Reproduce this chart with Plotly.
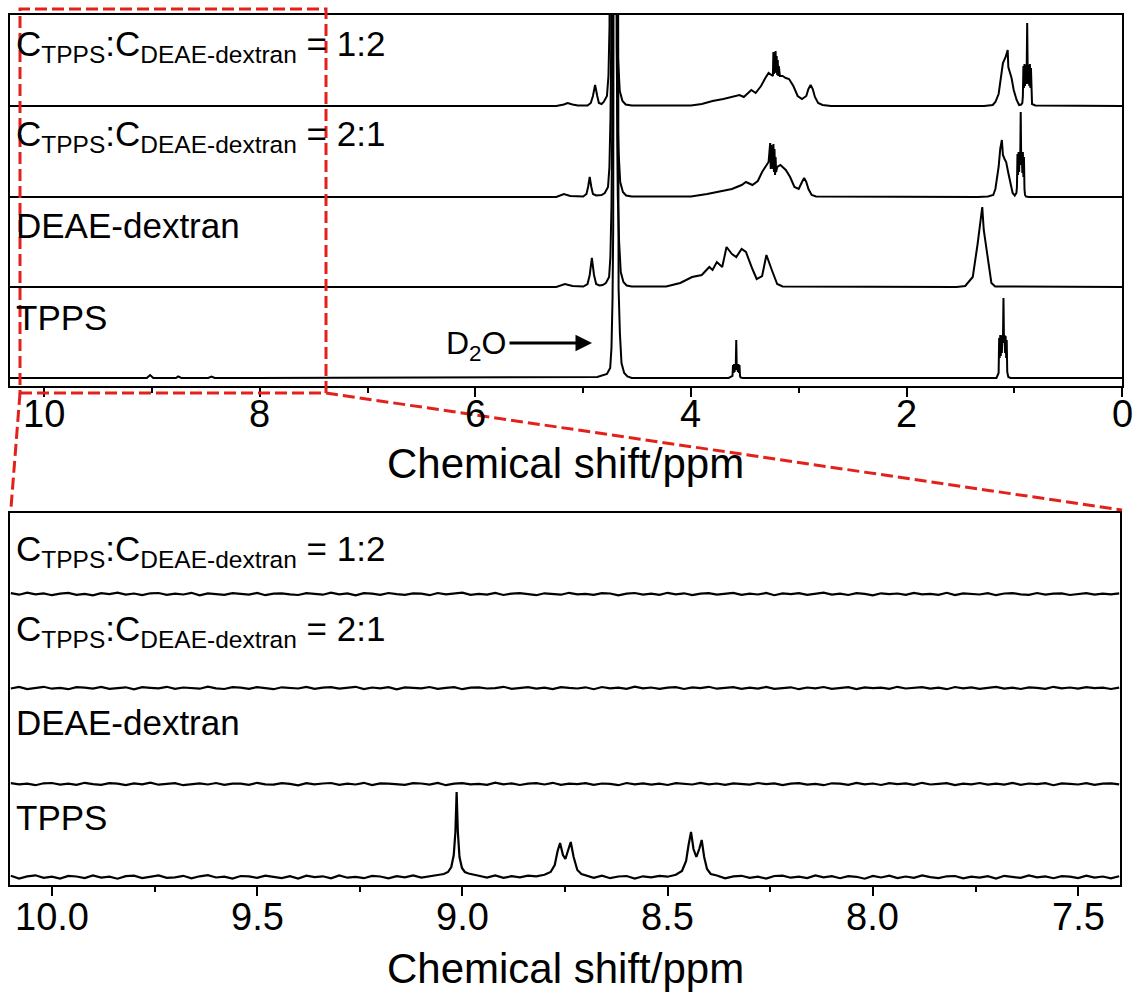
import plotly.graph_objects as go

W, H = 1135, 992
FONT = "Liberation Sans, Arial, sans-serif"

# ---------------- top panel (full spectra), intensities in a.u. ----------------
D2O_INT = [4, 10, 30, 80, 150, 2000, 150, 90, 45, 15, 5, 1.5]
D2O_12_PPM = [4.81, 4.78, 4.766, 4.756, 4.75, 4.722, 4.694, 4.688, 4.676, 4.661, 4.636, 4.606]
D2O_21_PPM = [4.80, 4.77, 4.757, 4.747, 4.741, 4.717, 4.69, 4.684, 4.672, 4.657, 4.632, 4.602]
D2O_DE_PPM = [4.79, 4.76, 4.748, 4.738, 4.732, 4.71, 4.685, 4.679, 4.667, 4.652, 4.627, 4.597]
D2O_TP_PPM = [4.78, 4.75, 4.738, 4.728, 4.722, 4.70, 4.678, 4.672, 4.66, 4.645, 4.62, 4.59]

# C_TPPS:C_DEAE = 1:2
T12_PPM = ([10.32, 5.25, 5.18, 5.145, 5.10, 5.05, 4.96, 4.93, 4.91, 4.89, 4.87, 4.855, 4.83]
           + D2O_12_PPM
           + [4.55, 4.00, 3.90, 3.80, 3.70, 3.62, 3.55, 3.51, 3.47, 3.44, 3.40, 3.35, 3.31, 3.28]
           + [3.24, 3.235, 3.23, 3.225, 3.22, 3.215, 3.21, 3.205, 3.20, 3.195, 3.19, 3.185, 3.175]
           + [3.15, 3.12, 3.09, 3.05, 3.01, 2.97, 2.93, 2.91, 2.89, 2.87, 2.85, 2.82, 2.78, 2.70]
           + [1.28, 1.20, 1.175, 1.145, 1.132, 1.105, 1.08, 1.061, 1.055, 1.04, 1.025, 1.005, 0.978, 0.955, 0.935]
           + [0.925, 0.92, 0.915, 0.91, 0.905, 0.90, 0.895, 0.89, 0.885, 0.88, 0.875, 0.87, 0.865, 0.86, 0.855,
              0.85, 0.845, 0.84, 0.835, 0.805, 0.0])
T12_INT = ([0, 0, 1.5, 3, 1.5, 0.5, 0.5, 3, 10, 21, 10, 3, 2]
           + D2O_INT
           + [0.5, 0.5, 2, 5, 7, 9, 11, 9, 13, 16, 13, 20, 28, 33]
           + [30, 54, 32, 52, 34, 55, 33, 50, 31, 46, 30, 40, 30]
           + [30, 28, 27, 20, 10, 7, 10, 17, 21, 17, 9, 3, 1, 0]
           + [0, 1, 4, 12, 23, 43, 49, 56, 39, 33, 28, 16, 6, 1, 1.5]
           + [3, 10, 40, 18, 42, 20, 41, 22, 30, 83, 30, 22, 41, 20, 42,
              18, 38, 8, 2, 0.5, 0])

# C_TPPS:C_DEAE = 2:1
T21_PPM = ([10.32, 5.25, 5.18, 5.12, 5.00, 4.97, 4.955, 4.94, 4.925, 4.91, 4.88, 4.83]
           + D2O_21_PPM
           + [4.55, 4.00, 3.85, 3.75, 3.62, 3.53, 3.49, 3.43, 3.38, 3.34, 3.31, 3.28]
           + [3.265, 3.26, 3.255, 3.25, 3.245, 3.24, 3.235, 3.23, 3.225, 3.22, 3.215, 3.21, 3.20]
           + [3.17, 3.12, 3.08, 3.04, 3.00, 2.97, 2.95, 2.93, 2.91, 2.88, 2.84]
           + [1.335, 1.245, 1.195, 1.175, 1.145, 1.13, 1.115, 1.105, 1.09, 1.075, 1.055, 1.04, 1.015, 0.995, 0.98]
           + [0.975, 0.97, 0.965, 0.96, 0.955, 0.95, 0.945, 0.94, 0.935, 0.93, 0.925, 0.92, 0.915, 0.91, 0.905,
              0.90, 0.89, 0.865, 0.0])
T21_INT = ([0, 0, 3, 1, 0.5, 3, 10, 20, 10, 3, 1.5, 2]
           + D2O_INT
           + [0.5, 0.5, 3, 5, 8, 12, 15, 12, 16, 25, 30, 35]
           + [54, 28, 52, 30, 50, 28, 53, 25, 48, 22, 40, 25, 30]
           + [32, 27, 20, 10, 8, 15, 19, 15, 8, 2, 0.5]
           + [0, 0.5, 2, 8, 30, 48, 57, 42, 38, 35, 24, 15, 4, 1.5, 4]
           + [10, 43, 22, 45, 25, 44, 32, 85, 32, 44, 24, 45, 20, 40, 8,
              2, 0.5, 0, 0])

# DEAE-dextran
TDE_PPM = ([10.32, 5.25, 5.17, 5.10, 5.00, 4.96, 4.94, 4.92, 4.90, 4.88, 4.85, 4.82]
           + D2O_DE_PPM
           + [4.55, 4.23, 4.10, 3.99, 3.90, 3.83, 3.80, 3.76, 3.71, 3.67, 3.62, 3.58, 3.53, 3.49, 3.43,
              3.39, 3.34, 3.30, 3.25, 3.20, 3.15]
           + [1.535, 1.455, 1.385, 1.34, 1.315, 1.297, 1.283, 1.257, 1.232, 1.212, 1.177, 0.0])
TDE_INT = ([0, 0, 3, 1, 0.5, 3, 12, 29, 12, 3, 1.5, 2]
           + D2O_INT
           + [0.5, 0.5, 4, 10, 12, 20, 17, 25, 20, 40, 33, 30, 38, 35, 18,
              8, 11, 32, 17, 3, 0.5]
           + [0, 1, 10, 43, 63, 80, 57, 37, 21, 4, 0.5, 0])

# TPPS
TTP_PPM = ([10.32, 9.05, 9.02, 8.99, 8.78, 8.76, 8.73, 8.48, 8.45, 8.42, 4.87]
           + D2O_TP_PPM
           + [4.55, 3.65, 3.615, 3.61, 3.605, 3.60, 3.595, 3.59, 3.585, 3.58, 3.575, 3.57, 3.565, 3.56,
              3.555, 3.55, 3.545, 3.54, 3.52, 3.49]
           + [1.165, 1.145, 1.14, 1.135, 1.13, 1.125, 1.12, 1.115, 1.11, 1.105, 1.10, 1.095, 1.09, 1.085,
              1.08, 1.075, 1.07, 1.065, 1.055, 1.035, 0.0])
TTP_INT = ([0, 0, 3, 0, 0, 1.5, 0, 0, 1.5, 0, 1]
           + D2O_INT
           + [0, 0, 2, 13, 5, 14, 6, 14, 8, 38, 8, 14, 6, 14,
              5, 13, 2, 0.5, 0, 0]
           + [0, 5, 40, 20, 43, 22, 42, 25, 43, 35, 80, 35, 43, 25,
              42, 20, 38, 6, 1, 0, 0])

# ---------------- bottom panel (10.1 - 7.4 ppm expansion) ----------------
Z_PPM = [10.10, 10.08, 10.06, 10.04, 10.02, 10.00, 9.98, 9.96, 9.94, 9.92,
         9.90, 9.88, 9.86, 9.84, 9.82, 9.80, 9.78, 9.76, 9.74, 9.72,
         9.70, 9.68, 9.66, 9.64, 9.62, 9.60, 9.58, 9.56, 9.54, 9.52,
         9.50, 9.48, 9.46, 9.44, 9.42, 9.40, 9.38, 9.36, 9.34, 9.32,
         9.30, 9.28, 9.26, 9.24, 9.22, 9.20, 9.18, 9.16, 9.14, 9.12,
         9.10, 9.08, 9.06, 9.04, 9.02, 9.00, 8.98, 8.96, 8.94, 8.92,
         8.90, 8.88, 8.86, 8.84, 8.82, 8.80, 8.78, 8.76, 8.74, 8.72,
         8.70, 8.68, 8.66, 8.64, 8.62, 8.60, 8.58, 8.56, 8.54, 8.52,
         8.50, 8.48, 8.46, 8.44, 8.42, 8.40, 8.38, 8.36, 8.34, 8.32,
         8.30, 8.28, 8.26, 8.24, 8.22, 8.20, 8.18, 8.16, 8.14, 8.12,
         8.10, 8.08, 8.06, 8.04, 8.02, 8.00, 7.98, 7.96, 7.94, 7.92,
         7.90, 7.88, 7.86, 7.84, 7.82, 7.80, 7.78, 7.76, 7.74, 7.72,
         7.70, 7.68, 7.66, 7.64, 7.62, 7.60, 7.58, 7.56, 7.54, 7.52,
         7.50, 7.48, 7.46, 7.44, 7.42, 7.40]
Z12_INT = [0.9, -0.7, 1.3, -0.4, 0.6, -1.2, 0.3, 1.1, -0.9, 0.2,
           -1.3, 0.8, -0.2, 1.4, -0.6, 0.5, -1.1, 0.7, 1.0, -0.8,
           0.3, -0.5, 1.2, -1.4, 0.6, 0.0, -0.9, 0.8, 0.4, -0.6,
           1.1, -1.2, 0.3, 0.7, -0.4, -1.0, 0.9, 0.1, -0.7, 1.3,
           -0.3, 0.6, -1.3, 0.8, 0.4, -0.8, 1.0, -0.2, -0.9, 0.7,
           0.3, -1.2, 1.0, -0.4, 0.5, 1.3, -0.8, 0.2, -0.6, 1.1,
           -1.0, 0.4, 0.8, -0.3, -1.2, 0.7, 0.2, -0.7, 1.2, -0.4,
           0.1, -0.9, 0.8, 0.5, -1.3, 0.4, 1.0, -0.6, 0.3, -0.8,
           1.2, -0.3, 0.7, -1.1, 0.4, 0.8, -0.7, 0.1, 1.1, -0.9,
           0.3, -0.5, 1.0, -1.2, 0.6, -0.1, 0.9, -0.8, 0.2, 1.3,
           -0.6, 0.4, -1.0, 0.8, 0.1, -1.3, 0.7, -0.2, 0.5, -0.9,
           1.1, -0.4, 0.2, -0.8, 1.2, -1.1, 0.6, 0.3, -0.5, 0.9,
           -1.2, 0.5, 0.8, -0.3, -0.9, 1.0, -0.6, 0.4, 0.7, -1.0,
           0.2, 0.9, -0.7, 0.4, -0.3, 0.6]
Z21_INT = [-0.5, 1.0, -1.1, 0.3, 1.2, -0.7, 0.1, -1.2, 0.8, 0.4,
           -0.6, 1.1, -0.8, -0.1, 0.7, -1.3, 0.9, 0.2, -0.4, 1.2,
           -0.9, 0.5, 0.1, -0.7, 1.3, -0.3, -1.0, 0.8, 0.4, -0.8,
           0.9, -0.1, -1.2, 0.7, 0.3, -0.5, 1.1, -0.9, 0.4, 0.8,
           -0.7, 0.1, 1.2, -1.0, 0.5, -0.3, 0.8, -1.3, 0.6, 0.2,
           -0.4, 1.0, -0.8, 0.1, 0.9, -1.2, 0.4, 0.7, -0.5, -0.1,
           1.2, -0.9, 0.3, 0.8, -0.6, 0.4, -1.1, 0.9, 0.1, -0.5,
           0.7, -1.2, 1.0, -0.3, 0.4, -0.8, 1.3, -0.4, 0.5, -0.9,
           0.3, 0.8, -1.0, 0.6, -0.1, 1.2, -0.7, -0.2, 0.9, -0.8,
           0.4, -0.6, 1.1, -0.9, 0.2, 0.7, -1.2, 0.5, -0.3, 1.0,
           -0.8, 0.3, 0.9, -1.1, 0.6, -0.2, 0.4, -0.9, 1.2, -0.5,
           0.1, 0.8, -0.7, 0.3, -1.2, 1.0, -0.4, 0.6, -0.8, 0.2,
           1.1, -0.6, 0.4, -1.0, 0.7, 0.2, -0.9, 1.2, -0.3, 0.5,
           -0.7, 0.9, -0.2, 0.4, -1.0, 0.3]
ZDE_INT = [0.8, -0.3, 0.4, -1.2, 0.7, 1.0, -0.6, 0.3, -0.9, 1.2,
           -0.1, -0.8, 0.9, 0.4, -1.1, 0.6, -0.4, 1.3, -0.7, 0.3,
           0.8, -1.2, 0.1, 0.7, -0.5, 1.0, -0.9, 0.4, 0.3, -0.8,
           1.2, -0.4, -0.7, 0.9, 0.1, -1.3, 0.8, -0.3, 0.5, 1.0,
           -0.8, 0.3, -0.5, 1.2, -1.0, 0.7, 0.4, -0.1, -0.9, 0.8,
           0.5, -0.7, 1.0, -1.2, 0.3, 0.9, -0.4, 0.1, -0.8, 1.3,
           -0.3, 0.7, -1.0, 0.4, 0.8, -0.5, 1.2, -0.9, 0.3, -0.1,
           0.9, -0.8, 0.5, 0.1, -1.2, 1.0, -0.4, 0.7, -0.7, 0.4,
           -1.0, 0.8, 0.3, -0.5, 1.2, -0.3, 0.5, -0.9, 0.7, 0.1,
           -0.6, 1.0, -0.2, 0.6, -1.1, 0.4, 0.9, -0.7, 0.2, -1.2,
           0.7, 0.3, -0.8, 1.1, -0.4, 0.5, -1.0, 0.8, -0.2, 0.6,
           -0.9, 1.2, -0.5, 0.2, 0.9, -1.1, 0.4, -0.3, 1.0, -0.7,
           0.3, -0.6, 1.1, -0.8, 0.5, -0.2, 0.8, -1.2, 0.6, 0.1,
           -0.5, 0.9, -0.9, 0.3, 0.7, -0.4]
ZTP_PPM = ([10.10, 10.08, 10.06, 10.04, 10.02, 10.00, 9.98, 9.96, 9.94, 9.92,
            9.90, 9.88, 9.86, 9.84, 9.82, 9.80, 9.78, 9.76, 9.74, 9.72,
            9.70, 9.68, 9.66, 9.64, 9.62, 9.60, 9.58, 9.56, 9.54, 9.52,
            9.50, 9.48, 9.46, 9.44, 9.42, 9.40, 9.38, 9.36, 9.34, 9.32,
            9.30, 9.28, 9.26, 9.24, 9.22, 9.20, 9.18, 9.16, 9.14, 9.12,
            9.10, 9.08]
           + [9.06, 9.045, 9.035, 9.027, 9.021, 9.017, 9.014, 9.011, 9.007, 9.001, 8.994, 8.985, 8.97]
           + [8.96, 8.94, 8.92, 8.90, 8.88, 8.86, 8.84, 8.82, 8.80]
           + [8.785, 8.775, 8.768, 8.762, 8.755, 8.749, 8.743, 8.736, 8.729, 8.72, 8.71, 8.70]
           + [8.68, 8.66, 8.64, 8.62, 8.60, 8.58, 8.56, 8.54, 8.52, 8.50, 8.48]
           + [8.465, 8.455, 8.449, 8.443, 8.437, 8.430, 8.423, 8.417, 8.411, 8.404, 8.395, 8.38]
           + [8.36, 8.34, 8.32, 8.30, 8.28, 8.26, 8.24, 8.22, 8.20, 8.18,
              8.16, 8.14, 8.12, 8.10, 8.08, 8.06, 8.04, 8.02, 8.00, 7.98,
              7.96, 7.94, 7.92, 7.90, 7.88, 7.86, 7.84, 7.82, 7.80, 7.78,
              7.76, 7.74, 7.72, 7.70, 7.68, 7.66, 7.64, 7.62, 7.60, 7.58,
              7.56, 7.54, 7.52, 7.50, 7.48, 7.46, 7.44, 7.42, 7.40])
ZTP_INT = ([1.2, -1.5, 0.6, 1.7, -0.9, 0.3, -1.6, 1.1, 0.5, -1.0,
            1.5, -0.6, 0.4, -1.7, 0.9, 1.3, -1.1, 0.2, 1.6, -0.8,
            -0.3, 1.2, -1.4, 0.7, 1.8, -0.5, 0.3, -1.5, 1.0, 0.6,
            -0.9, 1.4, 0.4, -1.1, 0.8, -1.6, 1.3, -0.2, 0.7, -1.3,
            1.6, -0.7, 0.2, -1.2, 1.1, 0.5, -1.4, 0.9, -0.4, 1.5,
            -0.6, 1.0]
           + [2.0, 3.0, 5, 10, 22, 45, 85, 45, 20, 9, 5, 3.5, 2.5]
           + [1.2, -0.6, 1.5, -0.9, 0.8, -0.3, 1.4, 0.6, 2.2]
           + [5, 12, 26, 34, 22, 18, 26, 35, 20, 7, 3, 1.5]
           + [-0.8, 1.3, -1.2, 0.5, 1.0, -1.5, 0.7, -0.4, 1.2, 0.3, 2.2]
           + [6, 16, 32, 45, 28, 20, 28, 37, 20, 8, 3, 1.5]
           + [-1.3, 0.6, 1.2, -0.8, 0.3, -1.6, 1.0, 1.4, -0.7, 0.4,
              -1.1, 1.6, -0.3, 0.8, -1.2, 0.9, 0.2, -1.7, 1.1, -0.5,
              1.3, -1.0, 0.5, -0.8, 1.5, -0.2, -1.1, 0.7, 1.0, -1.4,
              0.4, -0.7, 0.9, -1.5, 1.2, 0.1, -0.9, 1.6, -0.4, 0.6,
              -1.2, 0.8, 0.3, -1.0, 1.4, -0.6, 0.5, -1.3, 0.8])

TOP_TICKS = [10, 8, 6, 4, 2, 0]
TOP_TICK_LABELS = ["10", "8", "6", "4", "2", "0"]
BOT_TICKS = [10.0, 9.5, 9.0, 8.5, 8.0, 7.5]
BOT_TICK_LABELS = ["10.0", "9.5", "9.0", "8.5", "8.0", "7.5"]

LABEL_12 = "C<sub>TPPS</sub>:C<sub>DEAE-dextran</sub> = 1:2"
LABEL_21 = "C<sub>TPPS</sub>:C<sub>DEAE-dextran</sub> = 2:1"
LABEL_DE = "DEAE-dextran"
LABEL_TP = "TPPS"
X_TITLE = "Chemical shift/ppm"

# stacking offsets (plot units)
TOP_OFF = {"12": 280, "21": 189, "DE": 99, "TP": 8}
BOT_OFF = {"12": 291, "21": 197, "DE": 101, "TP": 8}

fig = go.Figure()


def add(ppm, vals, off, xa, ya, width=2.0):
    xs, ys = [], []
    for p, v in zip(ppm, vals):
        xs.append(p)
        ys.append(off + v)
    fig.add_trace(go.Scatter(x=xs, y=ys, mode="lines", line=dict(color="black", width=width),
                             xaxis=xa, yaxis=ya, showlegend=False, hoverinfo="skip"))


add(T12_PPM, T12_INT, TOP_OFF["12"], "x", "y")
add(T21_PPM, T21_INT, TOP_OFF["21"], "x", "y")
add(TDE_PPM, TDE_INT, TOP_OFF["DE"], "x", "y")
add(TTP_PPM, TTP_INT, TOP_OFF["TP"], "x", "y")

add(Z_PPM, Z12_INT, BOT_OFF["12"], "x2", "y2", 2.2)
add(Z_PPM, Z21_INT, BOT_OFF["21"], "x2", "y2", 2.2)
add(Z_PPM, ZDE_INT, BOT_OFF["DE"], "x2", "y2", 2.2)
add(ZTP_PPM, ZTP_INT, BOT_OFF["TP"], "x2", "y2", 2.2)

axis_common = dict(showline=True, mirror=True, linecolor="black", linewidth=2,
                   showgrid=False, zeroline=False)

fig.update_layout(
    width=W, height=H, margin=dict(l=0, r=0, t=0, b=0),
    paper_bgcolor="white", plot_bgcolor="white",
    xaxis=dict(domain=[10 / W, 1122 / W], range=[10.32, 0], anchor="y",
               ticks="outside", ticklen=9, tickwidth=2, tickcolor="black",
               tickmode="array", tickvals=TOP_TICKS, showticklabels=False,
               minor=dict(tickmode="array", tickvals=[9, 7, 5, 3, 1], ticks="outside",
                          ticklen=5, tickwidth=1.5, tickcolor="black"),
               **axis_common),
    yaxis=dict(domain=[1 - 386 / H, 1 - 15 / H], range=[0, 371], anchor="x",
               showticklabels=False, ticks="", **axis_common),
    xaxis2=dict(domain=[10 / W, 1120 / W], range=[10.102, 7.398], anchor="y2",
                ticks="outside", ticklen=9, tickwidth=2, tickcolor="black",
                tickmode="array", tickvals=BOT_TICKS, showticklabels=False,
                minor=dict(tickmode="array", tickvals=[9.75, 9.25, 8.75, 8.25, 7.75], ticks="outside",
                           ticklen=5, tickwidth=1.5, tickcolor="black"),
                **axis_common),
    yaxis2=dict(domain=[1 - 885 / H, 1 - 513 / H], range=[0, 372], anchor="x2",
                showticklabels=False, ticks="", **axis_common),
)


def lab(text, x, y, size=35, xanchor="left"):
    return dict(text=text, x=x / W, y=1 - y / H, xref="paper", yref="paper",
                xanchor=xanchor, yanchor="middle", showarrow=False,
                font=dict(size=size, family=FONT, color="black"))


ann = [
    lab(LABEL_12, 14, 46), lab(LABEL_21, 14, 136), lab(LABEL_DE, 14, 226), lab(LABEL_TP, 14, 317),
    lab(LABEL_12, 14, 551), lab(LABEL_21, 14, 631), lab(LABEL_DE, 14, 722), lab(LABEL_TP, 14, 817),
    lab("D<sub>2</sub>O", 444, 345, size=32),
    lab(X_TITLE, 565, 463, size=42, xanchor="center"),
    lab(X_TITLE, 565, 968, size=42, xanchor="center"),
    dict(text="", x=592 / W, y=1 - 343 / H, xref="paper", yref="paper", ax=-84, ay=0,
         showarrow=True, arrowhead=2, arrowsize=1.1, arrowwidth=3, arrowcolor="black"),
]
for v, t in zip(TOP_TICKS, TOP_TICK_LABELS):
    ann.append(dict(text=t, x=v, xref="x", y=1 - 414 / H, yref="paper", xanchor="center",
                    yanchor="middle", showarrow=False, font=dict(size=38, family=FONT, color="black")))
for v, t in zip(BOT_TICKS, BOT_TICK_LABELS):
    ann.append(dict(text=t, x=v, xref="x2", y=1 - 917 / H, yref="paper", xanchor="center",
                    yanchor="middle", showarrow=False, font=dict(size=38, family=FONT, color="black")))
fig.update_layout(annotations=ann)

RED = "#e3211c"
red = dict(color=RED, width=3, dash="12px,5px")
fig.update_layout(shapes=[
    dict(type="rect", xref="paper", yref="paper", x0=20 / W, x1=326 / W,
         y0=1 - 393 / H, y1=1 - 9 / H, line=red, layer="above"),
    dict(type="line", xref="paper", yref="paper", x0=20 / W, y0=1 - 393 / H,
         x1=11 / W, y1=1 - 508 / H, line=red, layer="above"),
    dict(type="line", xref="paper", yref="paper", x0=326 / W, y0=1 - 393 / H,
         x1=1122 / W, y1=1 - 510 / H, line=red, layer="above"),
])

fig.write_html("out.html")
